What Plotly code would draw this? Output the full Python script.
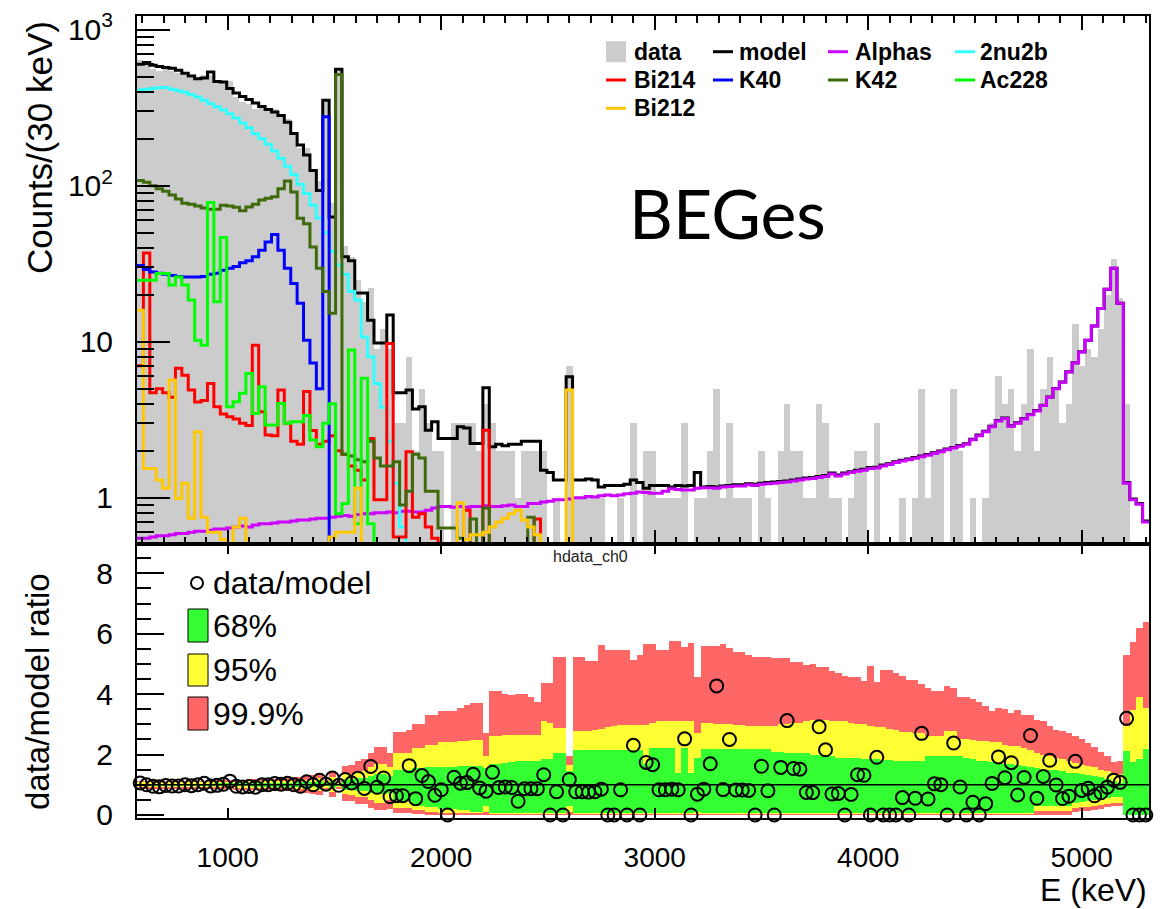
import numpy as np
import plotly.graph_objects as go

# ---------------- binning (30 keV bins) ----------------
E_MIN = 575
BIN_W = 30
N_BINS = 158
edges = E_MIN + BIN_W * np.arange(N_BINS + 1)
centers = edges[:-1] + BIN_W / 2

# ---------------- spectra (counts per 30 keV) ----------------
data_counts = [
    636, 615, 560, 540, 560, 542, 526, 525, 490, 485,
    514, 514, 456, 470, 470, 372, 346, 335, 311, 322,
    307, 308, 288, 268, 216, 173, 173, 125, 107, 360,
    77, 548, 41, 35, 25, 18, 22, 9, 12, 9,
    3, 3, 8, 2, 5, 3, 2, 2, 0, 3,
    3, 3, 3, 2, 4, 3, 2, 2, 2, 1,
    2, 2, 2, 2, 0, 1, 0, 7, 1, 1,
    1, 1, 1, 0, 0, 1, 0, 3, 0, 2,
    2, 1, 1, 1, 1, 3, 0, 1, 1, 2,
    5, 1, 3, 1, 1, 1, 0, 2, 1, 0,
    2, 4, 2, 2, 1, 1, 4, 3, 1, 1,
    0, 1, 2, 2, 0, 3, 0, 0, 0, 1,
    0, 1, 5, 1, 2, 2, 0, 5, 2, 0,
    1, 0, 1, 3, 6, 4, 5, 2, 4, 9,
    2, 5, 8, 5, 3, 4, 13, 7, 9, 8,
    12, 20, 34, 19, 4, 0, 0, 0,
]

model = [
    600, 615, 590, 580, 572, 565, 548, 525, 505, 485,
    490, 535, 465, 462, 420, 392, 372, 356, 338, 322,
    307, 296, 282, 255, 216, 182, 157, 125, 93, 353,
    63, 557, 35, 33, 20.5, 20.5, 13.7, 9.8, 9.8, 14.8,
    4.7, 4.7, 4.9, 3.7, 3.83, 2.71, 3.07, 2.4, 2.4, 2.4,
    2.85, 2.8, 2.23, 2.23, 5.07, 2.12, 2.2, 2.15, 2.2, 2.2,
    2.3, 2.3, 2.3, 1.5, 1.45, 1.3, 1.3, 5.96, 1.3, 1.3,
    1.32, 1.3, 1.17, 1.2, 1.2, 1.2, 1.22, 1.3, 1.25, 1.15,
    1.2, 1.2, 1.2, 1.17, 1.2, 1.19, 1.2, 1.45, 1.17, 1.18,
    1.17, 1.19, 1.20, 1.21, 1.21, 1.23, 1.22, 1.24, 1.25, 1.26,
    1.27, 1.28, 1.30, 1.32, 1.34, 1.35, 1.37, 1.39, 1.44, 1.40,
    1.44, 1.47, 1.50, 1.52, 1.56, 1.57, 1.62, 1.65, 1.70, 1.74,
    1.77, 1.81, 1.85, 1.89, 1.94, 1.99, 2.05, 2.10, 2.16, 2.22,
    2.37, 2.52, 2.67, 2.87, 3.12, 3.24, 2.89, 3.02, 3.22, 3.42,
    3.62, 3.92, 4.42, 5.02, 5.52, 6.42, 7.32, 8.62, 10.2, 12.6,
    16.3, 21.7, 29.5, 17.6, 1.25, 0.98, 0.92, 0.71,
]

alphas = [
    0.55, 0.55, 0.56, 0.57, 0.57, 0.58, 0.59, 0.59, 0.60, 0.61,
    0.61, 0.62, 0.63, 0.63, 0.64, 0.65, 0.66, 0.65, 0.67, 0.68,
    0.68, 0.69, 0.70, 0.70, 0.71, 0.72, 0.72, 0.73, 0.74, 0.74,
    0.75, 0.76, 0.77, 0.76, 0.78, 0.79, 0.79, 0.80, 0.80, 0.81,
    0.80, 0.82, 0.82, 0.81, 0.81, 0.83, 0.86, 0.88, 0.88, 0.87,
    0.88, 0.87, 0.88, 0.88, 0.89, 0.88, 0.88, 0.89, 0.90, 0.88,
    0.88, 0.92, 0.92, 0.94, 0.95, 0.97, 0.97, 0.98, 1.00, 1.00,
    1.02, 1.01, 1.03, 1.04, 1.03, 1.04, 1.06, 1.07, 1.09, 1.08,
    1.07, 1.07, 1.10, 1.14, 1.13, 1.12, 1.12, 1.15, 1.16, 1.16,
    1.15, 1.17, 1.18, 1.19, 1.19, 1.21, 1.20, 1.22, 1.23, 1.24,
    1.25, 1.26, 1.28, 1.30, 1.32, 1.33, 1.35, 1.37, 1.42, 1.38,
    1.42, 1.45, 1.48, 1.50, 1.54, 1.55, 1.60, 1.63, 1.68, 1.72,
    1.75, 1.79, 1.83, 1.87, 1.92, 1.97, 2.03, 2.08, 2.14, 2.20,
    2.35, 2.50, 2.65, 2.85, 3.10, 3.22, 2.87, 3.00, 3.20, 3.40,
    3.60, 3.90, 4.40, 5.00, 5.50, 6.40, 7.30, 8.60, 10.2, 12.6,
    16.3, 21.7, 29.5, 17.6, 1.24, 0.97, 0.91, 0.70,
]

two_nu2b = [
    410, 415, 420, 424, 425, 415, 405, 396, 383, 370,
    352, 335, 320, 305, 289, 271, 252, 235, 215, 200,
    184, 167, 150, 133, 118, 102, 89, 75, 62, 50,
    38, 31, 27, 21, 18.5, 10.7, 8.0, 5.4, 3.8, 2.3,
    1.24, 0.65, 0.35, 0.2, 0.15, 0.1, 0.08, 0.05, 0.03, 0.01,
    0, 0, 0, 0, 0, 0, 0, 0, 0, 0,
    0, 0, 0, 0, 0, 0, 0, 0, 0, 0,
    0, 0, 0, 0, 0, 0, 0, 0, 0, 0,
    0, 0, 0, 0, 0, 0, 0, 0, 0, 0,
    0, 0, 0, 0, 0, 0, 0, 0, 0, 0,
    0, 0, 0, 0, 0, 0, 0, 0, 0, 0,
    0, 0, 0, 0, 0, 0, 0, 0, 0, 0,
    0, 0, 0, 0, 0, 0, 0, 0, 0, 0,
    0, 0, 0, 0, 0, 0, 0, 0, 0, 0,
    0, 0, 0, 0, 0, 0, 0, 0, 0, 0,
    0, 0, 0, 0, 0, 0, 0, 0,
]

bi214 = [
    7.0, 37, 4.7, 5.0, 4.7, 4.4, 6.75, 6.1, 4.9, 4.1,
    4.2, 5.4, 3.83, 3.44, 3.3, 3.2, 3.0, 2.9, 9.5, 3.55,
    2.52, 2.5, 4.9, 3.0, 2.3, 2.2, 4.8, 2.7, 2.2, 2.3,
    2.5, 2.0, 1.9, 1.6, 1.5, 1.3, 2.4, 0.97, 0.97, 9.75,
    0.56, 0.56, 1.97, 0.75, 0.79, 0.65, 0.55, 0.45, 0.45, 0.45,
    0.5, 0.83, 0.5, 0.5, 2.71, 0.45, 0.45, 0.45, 0.42, 0.42,
    0.4, 0.4, 0.73, 0.3, 0, 0, 0, 0, 0, 0,
    0, 0, 0, 0, 0, 0, 0, 0, 0, 0,
    0, 0, 0, 0, 0, 0, 0, 0, 0, 0,
    0, 0, 0, 0, 0, 0, 0, 0, 0, 0,
    0, 0, 0, 0, 0, 0, 0, 0, 0, 0,
    0, 0, 0, 0, 0, 0, 0, 0, 0, 0,
    0, 0, 0, 0, 0, 0, 0, 0, 0, 0,
    0, 0, 0, 0, 0, 0, 0, 0, 0, 0,
    0, 0, 0, 0, 0, 0, 0, 0, 0, 0,
    0, 0, 0, 0, 0, 0, 0, 0,
]

k40 = [
    30.8, 29, 28, 27.5, 27, 26.6, 26.2, 26, 26, 26,
    26.2, 27, 27.5, 28.7, 29.5, 30.3, 32, 33, 35, 38.5,
    43.6, 48.6, 38.5, 29.5, 23.6, 17.6, 10.2, 7.3, 5.0, 276,
    0, 0, 0, 0, 0, 0, 0, 0, 0, 0,
    0, 0, 0, 0, 0, 0, 0, 0, 0, 0,
    0, 0, 0, 0, 0, 0, 0, 0, 0, 0,
    0, 0, 0, 0, 0, 0, 0, 0, 0, 0,
    0, 0, 0, 0, 0, 0, 0, 0, 0, 0,
    0, 0, 0, 0, 0, 0, 0, 0, 0, 0,
    0, 0, 0, 0, 0, 0, 0, 0, 0, 0,
    0, 0, 0, 0, 0, 0, 0, 0, 0, 0,
    0, 0, 0, 0, 0, 0, 0, 0, 0, 0,
    0, 0, 0, 0, 0, 0, 0, 0, 0, 0,
    0, 0, 0, 0, 0, 0, 0, 0, 0, 0,
    0, 0, 0, 0, 0, 0, 0, 0, 0, 0,
    0, 0, 0, 0, 0, 0, 0, 0,
]

k42 = [
    108, 105, 100, 95.6, 92, 87, 82, 77, 76, 74,
    72, 70.5, 70.5, 75, 74, 72.6, 69, 73, 76, 81,
    83, 85, 95.6, 107, 91, 61.7, 57, 40.5, 29.5, 21,
    15.2, 516, 1.9, 1.85, 1.75, 1.7, 2.3, 1.8, 1.6, 1.6,
    1.7, 0.9, 1.1, 1.9, 1.8, 1.1, 1.1, 0.64, 0.64, 0.64,
    0.55, 0.5, 0.73, 0.5, 0.86, 0.45, 0.42, 0.42, 0.4, 0.4,
    0.4, 0.75, 0.35, 0.3, 0, 0, 0, 0, 0, 0,
    0, 0, 0, 0, 0, 0, 0, 0, 0, 0,
    0, 0, 0, 0, 0, 0, 0, 0, 0, 0,
    0, 0, 0, 0, 0, 0, 0, 0, 0, 0,
    0, 0, 0, 0, 0, 0, 0, 0, 0, 0,
    0, 0, 0, 0, 0, 0, 0, 0, 0, 0,
    0, 0, 0, 0, 0, 0, 0, 0, 0, 0,
    0, 0, 0, 0, 0, 0, 0, 0, 0, 0,
    0, 0, 0, 0, 0, 0, 0, 0, 0, 0,
    0, 0, 0, 0, 0, 0, 0, 0,
]

ac228 = [
    24.8, 24.8, 24.8, 27.4, 27.4, 23.1, 26, 23.1, 18.5, 10.2,
    9.5, 78, 18, 46.5, 3.83, 4.12, 4.67, 6.26, 3.47, 5.14,
    2.92, 2.92, 4.02, 3.0, 3.07, 3.07, 3.37, 2.34, 2.12, 3.0,
    4.0, 0.79, 0.92, 8.85, 0.68, 5.83, 0.68, 0.4, 0.3, 0,
    0, 0, 0, 0, 0, 0, 0, 0, 0, 0,
    0, 0, 0, 0, 0, 0, 0, 0, 0, 0,
    0, 0, 0, 0, 0, 0, 0, 0, 0, 0,
    0, 0, 0, 0, 0, 0, 0, 0, 0, 0,
    0, 0, 0, 0, 0, 0, 0, 0, 0, 0,
    0, 0, 0, 0, 0, 0, 0, 0, 0, 0,
    0, 0, 0, 0, 0, 0, 0, 0, 0, 0,
    0, 0, 0, 0, 0, 0, 0, 0, 0, 0,
    0, 0, 0, 0, 0, 0, 0, 0, 0, 0,
    0, 0, 0, 0, 0, 0, 0, 0, 0, 0,
    0, 0, 0, 0, 0, 0, 0, 0, 0, 0,
    0, 0, 0, 0, 0, 0, 0, 0,
]

bi212 = [
    15.9, 1.54, 1.54, 1.3, 1.15, 5.68, 0.99, 1.24, 0.74, 2.65,
    0.75, 0.6, 0.6, 0.54, 0.5, 0.65, 0.74, 0.5, 0.45, 0.42,
    0.4, 0.4, 0.38, 0.37, 0.36, 0.35, 0.35, 0.35, 0.35, 0.35,
    0.56, 0.6, 0.6, 0.6, 1.15, 0.45, 0.4, 0.38, 0.36, 0.35,
    0.34, 0.33, 0.32, 0.31, 0.3, 0.3, 0.3, 0.3, 0.3, 0.3,
    0.93, 0.54, 0.58, 0.58, 0.6, 0.65, 0.7, 0.74, 0.79, 0.83,
    0.72, 0.65, 0.58, 0.3, 0.3, 0.3, 0.3, 4.9, 0, 0,
    0, 0, 0, 0, 0, 0, 0, 0, 0, 0,
    0, 0, 0, 0, 0, 0, 0, 0, 0, 0,
    0, 0, 0, 0, 0, 0, 0, 0, 0, 0,
    0, 0, 0, 0, 0, 0, 0, 0, 0, 0,
    0, 0, 0, 0, 0, 0, 0, 0, 0, 0,
    0, 0, 0, 0, 0, 0, 0, 0, 0, 0,
    0, 0, 0, 0, 0, 0, 0, 0, 0, 0,
    0, 0, 0, 0, 0, 0, 0, 0, 0, 0,
    0, 0, 0, 0, 0, 0, 0, 0,
]

# ---------------- expected ratio bands (per bin) ----------------
band68_lo = [
    0.96, 0.96, 0.96, 0.96, 0.96, 0.96, 0.96, 0.96, 0.96, 0.96,
    0.96, 0.96, 0.95, 0.95, 0.95, 0.95, 0.95, 0.95, 0.94, 0.94,
    0.94, 0.94, 0.94, 0.94, 0.93, 0.93, 0.92, 0.91, 0.90, 0.95,
    0.88, 0.96, 0.84, 0.84, 0.79, 0.79, 0.73, 0.70, 0.70, 0.74,
    0.45, 0.45, 0.45, 0.30, 0.30, 0.25, 0.25, 0.20, 0.20, 0.20,
    0.18, 0.18, 0.10, 0.10, 0.30, 0.08, 0.08, 0.08, 0.08, 0.08,
    0.08, 0.08, 0.08, 0.06, 0.06, 0.05, 0.05, 0.30, 0.05, 0.05,
    0.05, 0.05, 0.05, 0.05, 0.05, 0.05, 0.05, 0.05, 0.05, 0.05,
    0.05, 0.05, 0.05, 0.05, 0.05, 0.05, 0.05, 0.10, 0.05, 0.05,
    0.05, 0.05, 0.05, 0.05, 0.05, 0.05, 0.05, 0.05, 0.05, 0.05,
    0.05, 0.05, 0.05, 0.05, 0.05, 0.05, 0.05, 0.05, 0.05, 0.05,
    0.05, 0.05, 0.05, 0.05, 0.05, 0.05, 0.05, 0.05, 0.05, 0.05,
    0.05, 0.05, 0.05, 0.05, 0.05, 0.05, 0.05, 0.05, 0.05, 0.05,
    0.05, 0.05, 0.05, 0.05, 0.05, 0.05, 0.05, 0.05, 0.05, 0.05,
    0.28, 0.28, 0.28, 0.28, 0.28, 0.28, 0.40, 0.42, 0.45, 0.48,
    0.50, 0.55, 0.58, 0.60, 0.00, 0.00, 0.00, 0.00,
]
band68_hi = [
    1.04, 1.04, 1.04, 1.04, 1.04, 1.04, 1.04, 1.04, 1.04, 1.04,
    1.04, 1.04, 1.05, 1.05, 1.05, 1.05, 1.05, 1.05, 1.06, 1.06,
    1.06, 1.06, 1.06, 1.07, 1.07, 1.08, 1.09, 1.10, 1.11, 1.05,
    1.13, 1.04, 1.18, 1.18, 1.23, 1.23, 1.28, 1.35, 1.35, 1.28,
    1.50, 1.50, 1.50, 1.55, 1.55, 1.60, 1.60, 1.60, 1.60, 1.60,
    1.62, 1.62, 1.62, 1.62, 1.55, 1.70, 1.70, 1.72, 1.75, 1.77,
    1.77, 1.77, 1.77, 1.85, 1.85, 2.05, 2.05, 1.45, 2.16, 2.16,
    2.16, 2.16, 2.16, 2.16, 2.16, 2.16, 2.16, 2.16, 2.16, 1.70,
    2.21, 2.21, 2.21, 2.21, 1.38, 2.21, 1.38, 1.90, 2.18, 2.18,
    2.18, 2.18, 2.18, 2.18, 2.18, 2.18, 2.18, 2.18, 2.18, 2.10,
    2.10, 2.05, 2.05, 2.05, 2.05, 2.00, 2.00, 2.00, 1.95, 1.90,
    1.90, 1.90, 1.90, 1.85, 1.85, 1.85, 1.82, 1.82, 1.80, 1.80,
    1.78, 1.78, 1.77, 1.94, 1.94, 1.94, 1.94, 1.94, 1.94, 1.90,
    1.85, 1.80, 1.77, 1.75, 1.72, 1.70, 1.68, 1.65, 1.62, 1.60,
    1.55, 1.50, 1.50, 1.48, 1.45, 1.40, 1.38, 1.35, 1.32, 1.28,
    1.24, 1.18, 1.12, 1.06, 2.12, 1.75, 1.85, 2.18,
]
band95_lo = [
    0.92, 0.92, 0.92, 0.92, 0.92, 0.92, 0.92, 0.92, 0.91, 0.91,
    0.91, 0.91, 0.91, 0.91, 0.90, 0.90, 0.89, 0.89, 0.89, 0.88,
    0.88, 0.88, 0.88, 0.87, 0.86, 0.85, 0.84, 0.82, 0.80, 0.90,
    0.75, 0.92, 0.68, 0.67, 0.60, 0.60, 0.50, 0.40, 0.40, 0.50,
    0.22, 0.22, 0.22, 0.15, 0.15, 0.10, 0.10, 0.08, 0.08, 0.08,
    0.06, 0.06, 0.05, 0.05, 0.10, 0.04, 0.04, 0.04, 0.04, 0.04,
    0.04, 0.04, 0.04, 0.03, 0.03, 0.02, 0.02, 0.10, 0.02, 0.02,
    0.02, 0.02, 0.02, 0.02, 0.02, 0.02, 0.02, 0.02, 0.02, 0.02,
    0.02, 0.02, 0.02, 0.02, 0.02, 0.02, 0.02, 0.02, 0.02, 0.02,
    0.02, 0.02, 0.02, 0.02, 0.02, 0.02, 0.02, 0.02, 0.02, 0.02,
    0.02, 0.02, 0.02, 0.02, 0.02, 0.02, 0.02, 0.02, 0.02, 0.02,
    0.02, 0.02, 0.02, 0.02, 0.02, 0.02, 0.02, 0.02, 0.02, 0.02,
    0.02, 0.02, 0.02, 0.02, 0.02, 0.02, 0.02, 0.02, 0.02, 0.02,
    0.02, 0.02, 0.02, 0.02, 0.02, 0.02, 0.02, 0.02, 0.02, 0.02,
    0.12, 0.12, 0.12, 0.12, 0.12, 0.12, 0.23, 0.25, 0.27, 0.30,
    0.32, 0.35, 0.38, 0.40, 0.00, 0.00, 0.00, 0.00,
]
band95_hi = [
    1.08, 1.08, 1.08, 1.08, 1.08, 1.08, 1.08, 1.08, 1.09, 1.09,
    1.09, 1.09, 1.09, 1.09, 1.10, 1.10, 1.11, 1.11, 1.11, 1.12,
    1.12, 1.12, 1.12, 1.13, 1.14, 1.15, 1.17, 1.18, 1.21, 1.11,
    1.26, 1.09, 1.36, 1.36, 1.47, 1.47, 1.58, 1.70, 1.70, 1.60,
    2.05, 2.05, 2.05, 2.20, 2.20, 2.30, 2.30, 2.40, 2.40, 2.40,
    2.45, 2.45, 2.49, 2.49, 1.94, 2.60, 2.60, 2.65, 2.65, 2.65,
    2.65, 2.65, 2.65, 3.10, 3.05, 2.88, 2.88, 1.65, 2.77, 2.77,
    2.77, 2.80, 2.85, 2.90, 2.95, 2.99, 2.99, 2.99, 2.99, 2.99,
    3.05, 3.10, 3.10, 3.10, 3.10, 3.10, 3.10, 2.70, 3.05, 3.05,
    3.00, 3.00, 3.00, 2.99, 2.99, 2.95, 2.93, 2.93, 2.93, 2.95,
    3.00, 3.00, 3.05, 3.05, 3.10, 3.15, 3.15, 3.15, 3.10, 3.10,
    3.10, 3.05, 3.00, 3.00, 2.95, 2.90, 2.90, 2.85, 2.80, 2.75,
    2.75, 2.70, 2.70, 2.60, 2.60, 2.60, 2.77, 2.77, 2.50, 2.50,
    2.49, 2.45, 2.45, 2.40, 2.40, 2.30, 2.27, 2.27, 2.20, 2.15,
    2.05, 2.00, 1.94, 1.90, 1.85, 1.80, 1.72, 1.65, 1.62, 1.58,
    1.50, 1.45, 1.38, 1.35, 2.93, 3.48, 3.92, 3.54,
]
band999_lo = [
    0.87, 0.87, 0.87, 0.87, 0.87, 0.87, 0.86, 0.86, 0.86, 0.86,
    0.86, 0.86, 0.85, 0.85, 0.85, 0.84, 0.83, 0.83, 0.82, 0.82,
    0.81, 0.80, 0.80, 0.79, 0.77, 0.75, 0.73, 0.70, 0.66, 0.84,
    0.60, 0.87, 0.45, 0.45, 0.35, 0.35, 0.22, 0.15, 0.15, 0.20,
    0.05, 0.05, 0.05, 0.03, 0.03, 0.00, 0.00, 0.00, 0.00, 0.00,
    0.00, 0.00, 0.00, 0.00, 0.00, 0.00, 0.00, 0.00, 0.00, 0.00,
    0.00, 0.00, 0.00, 0.00, 0.00, 0.00, 0.00, 0.00, 0.00, 0.00,
    0.00, 0.00, 0.00, 0.00, 0.00, 0.00, 0.00, 0.00, 0.00, 0.00,
    0.00, 0.00, 0.00, 0.00, 0.00, 0.00, 0.00, 0.00, 0.00, 0.00,
    0.00, 0.00, 0.00, 0.00, 0.00, 0.00, 0.00, 0.00, 0.00, 0.00,
    0.00, 0.00, 0.00, 0.00, 0.00, 0.00, 0.00, 0.00, 0.00, 0.00,
    0.00, 0.00, 0.00, 0.00, 0.00, 0.00, 0.00, 0.00, 0.00, 0.00,
    0.00, 0.00, 0.00, 0.00, 0.00, 0.00, 0.00, 0.00, 0.00, 0.00,
    0.00, 0.00, 0.00, 0.00, 0.00, 0.00, 0.00, 0.00, 0.00, 0.00,
    0.00, 0.00, 0.00, 0.00, 0.00, 0.00, 0.10, 0.12, 0.14, 0.16,
    0.20, 0.25, 0.30, 0.28, 0.00, 0.00, 0.00, 0.00,
]
band999_hi = [
    1.13, 1.13, 1.13, 1.13, 1.13, 1.13, 1.14, 1.14, 1.14, 1.14,
    1.14, 1.14, 1.15, 1.15, 1.15, 1.16, 1.17, 1.18, 1.18, 1.19,
    1.20, 1.20, 1.21, 1.22, 1.24, 1.27, 1.29, 1.33, 1.38, 1.17,
    1.45, 1.14, 1.62, 1.64, 1.80, 1.85, 2.05, 2.25, 2.25, 2.05,
    2.76, 2.76, 2.80, 3.00, 3.00, 3.30, 3.30, 3.45, 3.45, 3.45,
    3.55, 3.65, 3.70, 3.70, 2.71, 4.09, 4.09, 4.00, 3.98, 4.00,
    4.00, 3.90, 3.73, 4.37, 4.37, 5.22, 5.22, 1.95, 5.24, 5.24,
    5.11, 5.11, 5.63, 5.47, 5.47, 5.47, 5.47, 5.14, 5.30, 5.66,
    5.66, 5.47, 5.47, 5.77, 5.77, 5.57, 5.68, 4.58, 5.60, 5.60,
    5.60, 5.65, 5.52, 5.41, 5.41, 5.30, 5.24, 5.24, 5.24, 5.19,
    5.19, 5.19, 5.08, 5.08, 4.95, 5.00, 4.91, 4.91, 4.75, 4.69,
    4.60, 4.58, 4.58, 4.45, 4.94, 4.41, 4.80, 4.80, 4.70, 4.60,
    4.47, 4.47, 4.35, 4.20, 4.09, 4.09, 4.28, 4.20, 3.92, 3.92,
    3.85, 3.75, 3.60, 3.45, 3.54, 3.50, 3.37, 3.46, 3.32, 3.30,
    3.15, 3.10, 2.95, 2.80, 2.77, 2.70, 2.60, 2.50, 2.38, 2.25,
    2.10, 1.95, 1.75, 1.80, 5.30, 5.74, 6.18, 6.40,
]

components = [
    ("Alphas", alphas, "#cc00ff"),
    ("2nu2b", two_nu2b, "#33ffff"),
    ("Bi214", bi214, "#ff0000"),
    ("K40", k40, "#0000ff"),
    ("K42", k42, "#3f6a0c"),
    ("Ac228", ac228, "#00ff00"),
    ("Bi212", bi212, "#ffc800"),
]

for name, arr in [("data", data_counts), ("model", model)] + [(c[0], c[1]) for c in components] + [
        ("b68l", band68_lo), ("b68h", band68_hi), ("b95l", band95_lo), ("b95h", band95_hi),
        ("b999l", band999_lo), ("b999h", band999_hi)]:
    assert len(arr) == N_BINS, (name, len(arr))


def step_xy(vals):
    """Histogram outline through the bin edges; empty bins sink below the log axis."""
    v = np.asarray(vals, dtype=float)
    v = np.where(v > 0, v, 1e-3)
    return edges, np.append(v, v[-1])


fig = go.Figure()

# ---------------- upper pad: spectrum ----------------
data_arr = np.asarray(data_counts, dtype=float)
fig.add_trace(go.Bar(
    x=centers, y=np.where(data_arr > 0, data_arr, np.nan), width=BIN_W,
    marker=dict(color="#cccccc", line=dict(width=0)),
    xaxis="x", yaxis="y", name="data",
))

sx, sy = step_xy(model)
fig.add_trace(go.Scatter(x=sx, y=sy, mode="lines", line=dict(color="black", width=3, shape="hv"),
                         xaxis="x", yaxis="y", name="model"))
for name, vals, col in components:
    sx, sy = step_xy(vals)
    fig.add_trace(go.Scatter(x=sx, y=sy, mode="lines", line=dict(color=col, width=3, shape="hv"),
                             xaxis="x", yaxis="y", name=name))

# ---------------- lower pad: data/model ratio ----------------
lo_hi = [
    (band999_lo, band999_hi, "#ff6666"),
    (band95_lo, band95_hi, "#ffff33"),
    (band68_lo, band68_hi, "#33ff33"),
]
for lo, hi, col in lo_hi:
    lo = np.asarray(lo)
    hi = np.asarray(hi)
    fig.add_trace(go.Bar(x=centers, y=hi - lo, base=lo, width=BIN_W,
                         marker=dict(color=col, line=dict(width=0)),
                         xaxis="x2", yaxis="y2"))

ratio = data_arr / np.asarray(model, dtype=float)
fig.add_trace(go.Scatter(x=[E_MIN, edges[-1]], y=[1, 1], mode="lines",
                         line=dict(color="black", width=1.5), xaxis="x2", yaxis="y2"))
fig.add_trace(go.Scatter(x=centers, y=ratio, mode="markers", cliponaxis=False,
                         marker=dict(symbol="circle-open", size=13, color="black", line=dict(width=2)),
                         xaxis="x2", yaxis="y2", name="data/model"))

# ---------------- axes ----------------
FONT = "Liberation Sans, Arial, Helvetica, sans-serif"
x_major = [1000, 2000, 3000, 4000, 5000]
log_minor = [m * 10 ** k for k in range(-1, 4) for m in range(2, 10)]
SPLIT = 0.3416

fig.update_layout(
    width=1168, height=909,
    margin=dict(l=137, r=19, t=16, b=91, autoexpand=False),
    paper_bgcolor="white", plot_bgcolor="white",
    showlegend=False, barmode="overlay", bargap=0,
    xaxis=dict(
        domain=[0, 1], anchor="y", range=[E_MIN, edges[-1]],
        tickmode="array", tickvals=x_major, showticklabels=False,
        ticks="inside", ticklen=14, tickwidth=1.5, tickcolor="black",
        minor=dict(ticks="inside", ticklen=7, tickwidth=1.5, tickcolor="black",
                   tickmode="linear", tick0=0, dtick=100, showgrid=False),
        showline=True, linecolor="black", linewidth=2, mirror="ticks",
        showgrid=False, zeroline=False,
    ),
    yaxis=dict(
        domain=[SPLIT, 1], anchor="x", type="log",
        range=[np.log10(0.505), np.log10(1222)],
        tickmode="array", tickvals=[1, 10, 100, 1000],
        ticktext=["1", "10", "10<sup>2</sup>", "10<sup>3</sup>"],
        tickfont=dict(family=FONT, size=30, color="black"),
        ticks="inside", ticklen=33, tickwidth=1.5, tickcolor="black",
        minor=dict(ticks="inside", ticklen=17, tickwidth=1.5, tickcolor="black",
                   tickmode="array", tickvals=log_minor, showgrid=False),
        ticklabelstandoff=16,
        showline=True, linecolor="black", linewidth=2, mirror=True,
        showgrid=False, zeroline=False,
    ),
    xaxis2=dict(
        domain=[0, 1], anchor="y2", matches="x", range=[E_MIN, edges[-1]],
        tickmode="array", tickvals=x_major, ticktext=[str(v) for v in x_major],
        tickfont=dict(family=FONT, size=28, color="black"),
        ticks="inside", ticklen=10, tickwidth=1.5, tickcolor="black",
        ticklabelstandoff=13,
        showline=True, linecolor="black", linewidth=2, mirror="ticks",
        showgrid=False, zeroline=False,
    ),
    yaxis2=dict(
        domain=[0, SPLIT], anchor="x2", range=[-0.1, 8.97],
        tickmode="array", tickvals=[0, 2, 4, 6, 8],
        tickfont=dict(family=FONT, size=30, color="black"),
        ticks="inside", ticklen=27, tickwidth=1.5, tickcolor="black",
        minor=dict(ticks="inside", ticklen=14, tickwidth=1.5, tickcolor="black",
                   tickmode="linear", tick0=0, dtick=0.5, showgrid=False),
        ticklabelstandoff=16,
        showline=True, linecolor="black", linewidth=2, mirror=True,
        showgrid=False, zeroline=False,
    ),
)


# ---------------- text, legends ----------------
def px(x):
    return (x - 137) / 1012


def py(y):
    return (818 - y) / 802


annotations = [
    dict(text="Counts/(30 keV)", x=px(40), y=py(148), textangle=-90,
         font=dict(family=FONT, size=35, color="black")),
    dict(text="data/model ratio", x=px(37), y=py(692), textangle=-90,
         font=dict(family=FONT, size=33, color="black")),
    dict(text="E (keV)", x=px(1149), y=py(890), xanchor="right",
         font=dict(family=FONT, size=32, color="black")),
    dict(text="BEGes", x=px(727), y=py(213),
         font=dict(family="Lato, Open Sans, sans-serif", size=68, color="black")),
    dict(text="hdata_ch0", x=px(590), y=py(557),
         font=dict(family=FONT, size=16, color="#222222")),
]
shapes = []

# spectrum legend, four columns
leg_rows = [51.7, 80.0, 108.3]
leg_cols = [(606, 632), (713, 737), (828, 853), (955, 978)]
lookup = {"model": "black"}
lookup.update({n: c for n, _, c in components})
order = ["data", "model", "Alphas", "2nu2b", "Bi214", "K40", "K42", "Ac228", "Bi212"]
for i, name in enumerate(order):
    r, c = divmod(i, 4)
    yc = leg_rows[r]
    mx, tx = leg_cols[c]
    if name == "data":
        shapes.append(dict(type="rect", xref="paper", yref="paper",
                           x0=px(mx), x1=px(mx + 20), y0=py(yc + 10.5), y1=py(yc - 10.5),
                           fillcolor="#cccccc", line=dict(width=0)))
    else:
        shapes.append(dict(type="line", xref="paper", yref="paper",
                           x0=px(mx), x1=px(mx + 20), y0=py(yc), y1=py(yc),
                           line=dict(color=lookup[name], width=3)))
    annotations.append(dict(text=f"<b>{name}</b>", x=px(tx), y=py(yc), xanchor="left",
                            font=dict(family=FONT, size=23, color="black")))

# ratio legend
shapes.append(dict(type="circle", xref="paper", yref="paper",
                   x0=px(191), x1=px(203), y0=py(589), y1=py(577),
                   line=dict(color="black", width=2)))
annotations.append(dict(text="data/model", x=px(211), y=py(583), xanchor="left",
                        font=dict(family=FONT, size=32, color="black")))
for (y0, y1, col, lab) in [(609, 642, "#33ff33", "68%"), (654, 686, "#ffff33", "95%"),
                           (697, 730, "#ff6666", "99.9%")]:
    shapes.append(dict(type="rect", xref="paper", yref="paper",
                       x0=px(188), x1=px(208), y0=py(y1), y1=py(y0),
                       fillcolor=col, line=dict(color="black", width=1)))
    annotations.append(dict(text=lab, x=px(211), y=py((y0 + y1) / 2), xanchor="left",
                            font=dict(family=FONT, size=32, color="black")))

for a in annotations:
    a.setdefault("xref", "paper")
    a.setdefault("yref", "paper")
    a.setdefault("xanchor", "center")
    a.setdefault("yanchor", "middle")
    a.setdefault("showarrow", False)
fig.update_layout(annotations=annotations, shapes=shapes)

fig.write_html("out.html")
